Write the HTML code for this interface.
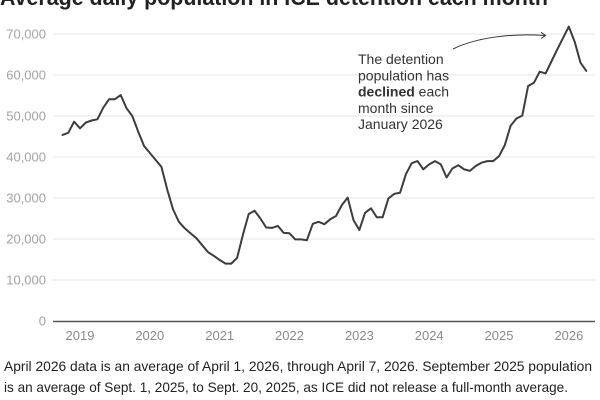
<!DOCTYPE html>
<html><head><meta charset="utf-8"><style>
html,body{margin:0;padding:0;background:#fff;}
svg{display:block;}
text{font-family:"Liberation Sans",Arial,sans-serif;}
</style></head><body>
<svg width="600" height="400" viewBox="0 0 600 400" xmlns="http://www.w3.org/2000/svg">
<rect width="600" height="400" fill="#fff"/>
<text x="0" y="5" font-size="22" font-weight="bold" fill="#222" textLength="548" lengthAdjust="spacingAndGlyphs">Average daily population in ICE detention each month</text>
<g stroke="#e6e6e6" stroke-width="1">
<line x1="53" y1="34" x2="595" y2="34"/>
<line x1="53" y1="75" x2="595" y2="75"/>
<line x1="53" y1="116" x2="595" y2="116"/>
<line x1="53" y1="157" x2="595" y2="157"/>
<line x1="53" y1="198" x2="595" y2="198"/>
<line x1="53" y1="239" x2="595" y2="239"/>
<line x1="53" y1="280" x2="595" y2="280"/>
</g>
<line x1="53" y1="321.5" x2="595" y2="321.5" stroke="#555" stroke-width="1.5"/>
<g font-size="13" fill="#a3a3a3" text-anchor="end">
<text x="46" y="38.5">70,000</text>
<text x="46" y="79.5">60,000</text>
<text x="46" y="120.5">50,000</text>
<text x="46" y="161.5">40,000</text>
<text x="46" y="202.5">30,000</text>
<text x="46" y="243.5">20,000</text>
<text x="46" y="284.5">10,000</text>
<text x="46" y="325.5">0</text>
</g>
<g font-size="13" fill="#8a8a8a" text-anchor="middle">
<text x="80" y="340">2019</text>
<text x="149.8" y="340">2020</text>
<text x="219.7" y="340">2021</text>
<text x="289.5" y="340">2022</text>
<text x="359.4" y="340">2023</text>
<text x="429.2" y="340">2024</text>
<text x="499" y="340">2025</text>
<text x="568.9" y="340">2026</text>
</g>
<polyline fill="none" stroke="#3d3d3d" stroke-width="2" stroke-linejoin="round" stroke-linecap="round" points="62.5,134.9 68.3,132.8 74.1,121.7 80.0,128.3 85.8,122.6 91.6,120.5 97.4,119.3 103.2,107.8 109.1,99.2 114.9,99.2 120.7,95.1 126.5,108.2 132.3,116.0 138.2,131.6 144.0,145.9 149.8,152.9 155.6,159.9 161.4,166.8 167.3,189.8 173.1,209.5 178.9,221.8 184.7,228.3 190.5,233.3 196.4,238.2 202.2,245.2 208.0,252.1 213.8,255.8 219.6,259.9 225.5,263.6 231.3,263.6 237.1,257.9 242.9,234.9 248.7,214.0 254.6,210.7 260.4,218.5 266.2,227.5 272.0,227.9 277.8,225.9 283.7,232.9 289.5,233.3 295.3,239.4 301.1,239.4 306.9,240.2 312.8,223.8 318.6,221.8 324.4,224.2 330.2,219.3 336.0,216.0 341.9,205.0 347.7,197.6 353.5,220.1 359.3,230.0 365.1,212.8 371.0,208.3 376.8,217.3 382.6,217.3 388.4,198.4 394.2,193.9 400.1,192.7 405.9,174.2 411.7,163.2 417.5,161.1 423.3,169.3 429.2,164.4 435.0,161.1 440.8,164.4 446.6,177.5 452.4,168.5 458.3,165.2 464.1,169.3 469.9,170.9 475.7,166.0 481.5,162.7 487.4,161.1 493.2,161.1 499.0,156.2 504.8,145.1 510.6,125.8 516.5,118.5 522.3,115.6 528.1,86.1 533.9,82.8 539.7,71.7 545.6,73.4 551.4,61.5 557.2,49.6 563.0,38.1 568.8,26.6 574.7,41.8 580.5,62.7 586.3,70.9"/>
<path d="M453,49 C475,38 510,33 545,35.5" fill="none" stroke="#333" stroke-width="1"/>
<path d="M541,32.3 L545.5,35.5 L541.3,38.3" fill="none" stroke="#333" stroke-width="1"/>
<g font-size="14" fill="#333">
<text x="358" y="64">The detention</text>
<text x="358" y="80.3">population has</text>
<text x="358" y="96.5"><tspan font-weight="bold">declined</tspan> each</text>
<text x="358" y="112.8">month since</text>
<text x="358" y="129">January 2026</text>
</g>
<g font-size="14" fill="#222">
<text x="4" y="371" textLength="588" lengthAdjust="spacingAndGlyphs">April 2026 data is an average of April 1, 2026, through April 7, 2026. September 2025 population</text>
<text x="4" y="392" textLength="564" lengthAdjust="spacingAndGlyphs">is an average of Sept. 1, 2025, to Sept. 20, 2025, as ICE did not release a full-month average.</text>
</g>
</svg>
</body></html>
